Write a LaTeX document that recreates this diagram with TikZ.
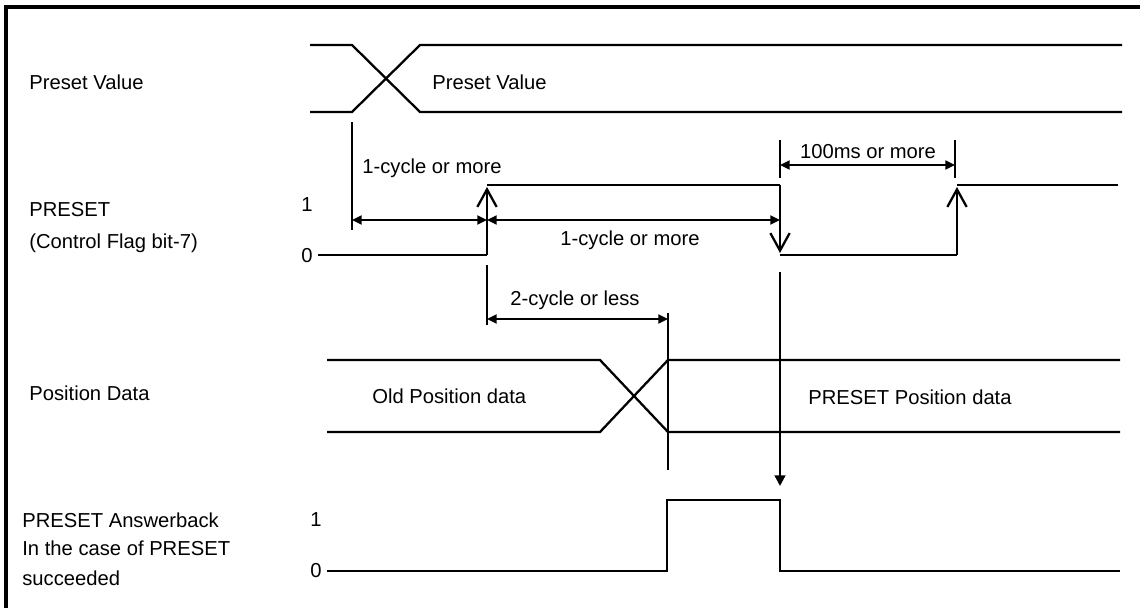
\documentclass[tikz,border=0pt]{standalone}
\usepackage{fontspec}
\setmainfont{Liberation Sans}
\usetikzlibrary{arrows.meta}

\begin{document}
\begin{tikzpicture}[x=0.02cm,y=-0.02cm,
    font=\fontsize{11.5}{13}\selectfont,
    sig/.style={line width=1.3pt,line join=miter},
    lbl/.style={anchor=west,inner sep=0pt},
    dim/.style={{Triangle[length=5.5pt,width=5pt]}-{Triangle[length=5.5pt,width=5pt]},line width=1.3pt},
    edgearr/.style={-{Straight Barb[length=10pt,width=11pt,line width=1.3pt]},line width=1.3pt},
    tickln/.style={line width=1.3pt}]
  \useasboundingbox (0,0) rectangle (1140,608);
  % frame
  \draw[line width=2pt] (6,608) -- (6,7) -- (1140,7);
  % left labels
  \node[lbl] (pvname) at (29,82) {Preset Value};
  \node[lbl] (presetname) at (29,210) {PRESET};
  \node[lbl] (ctrlname) at (29,243) {(Control Flag bit-7)};
  \node[lbl] (posname) at (29,393) {Position Data};
  \node[lbl] (ansname) at (22,520) {PRESET Answerback};
  \node[lbl] (casename) at (22,548) {In the case of PRESET};
  \node[lbl] (succname) at (22,578) {succeeded};
  % level labels
  \node (hiA) at (307,205) {1};
  \node (loA) at (307,256) {0};
  \node (hiB) at (316,520) {1};
  \node (loB) at (316,571) {0};
  % preset value bus
  \draw[sig] (310,45) -- (352,45) -- (420,112) -- (1122,112);
  \draw[sig] (310,112) -- (352,112) -- (420,45) -- (1122,45);
  \node[lbl] (pvval) at (432,82) {Preset Value};
  % PRESET flag
  \coordinate (rise1) at (487,255);
  \coordinate (rise1t) at (487,187);
  \coordinate (fall1) at (780,185);
  \coordinate (fall1b) at (780,253);
  \coordinate (rise2) at (957,255);
  \coordinate (rise2t) at (957,187);
  \draw[sig] (318,255) -- (rise1);
  \draw[edgearr] (rise1) -- (rise1t);
  \draw[sig] (487,185) -- (fall1);
  \draw[edgearr] (fall1) -- (fall1b);
  \draw[sig] (780,255) -- (rise2);
  \draw[edgearr] (rise2) -- (rise2t);
  \draw[sig] (957,185) -- (1118,185);
  % timing marks
  \coordinate (pvmark) at (352,122);
  \coordinate (pvmarkb) at (352,230);
  \draw[tickln] (pvmark) -- (pvmarkb);
  \draw[dim] (352,220) coordinate (dA) -- (487,220) coordinate (dB);
  \draw[dim] (dB) -- (780,220) coordinate (dC);
  \node[lbl] (cyc1) at (362,168) {1-cycle or more};
  \node (cyc2) at (630,240) {1-cycle or more};
  \draw[tickln] (780,140) coordinate (msA) -- (780,178);
  \draw[tickln] (955,140) coordinate (msB) -- (955,178);
  \draw[dim] (780,165) -- (955,165);
  \node (ms) at (868,152) {100ms or more};
  \draw[tickln] (487,265) coordinate (lessA) -- (487,325);
  \draw[dim] (487,319) -- (668,319) coordinate (lessB);
  \node (less) at (575,300) {2-cycle or less};
  \draw[tickln] (668,313) -- (668,470);
  \draw[-{Triangle[length=6pt,width=6pt]},line width=1.3pt] (780,272) coordinate (ansA) -- (780,486) coordinate (ansB);
  % position data bus
  \draw[sig] (327,360) -- (600,360) -- (668,432) -- (1120,432);
  \draw[sig] (327,432) -- (600,432) -- (668,360) -- (1120,360);
  \node[lbl] (oldpos) at (372,396) {Old Position data};
  \node[lbl] (newpos) at (808,397) {PRESET Position data};
  % answerback
  \draw[sig] (327,571) -- (667,571) -- (667,500) -- (780,500) -- (780,571) -- (1120,571);
\end{tikzpicture}
\end{document}
